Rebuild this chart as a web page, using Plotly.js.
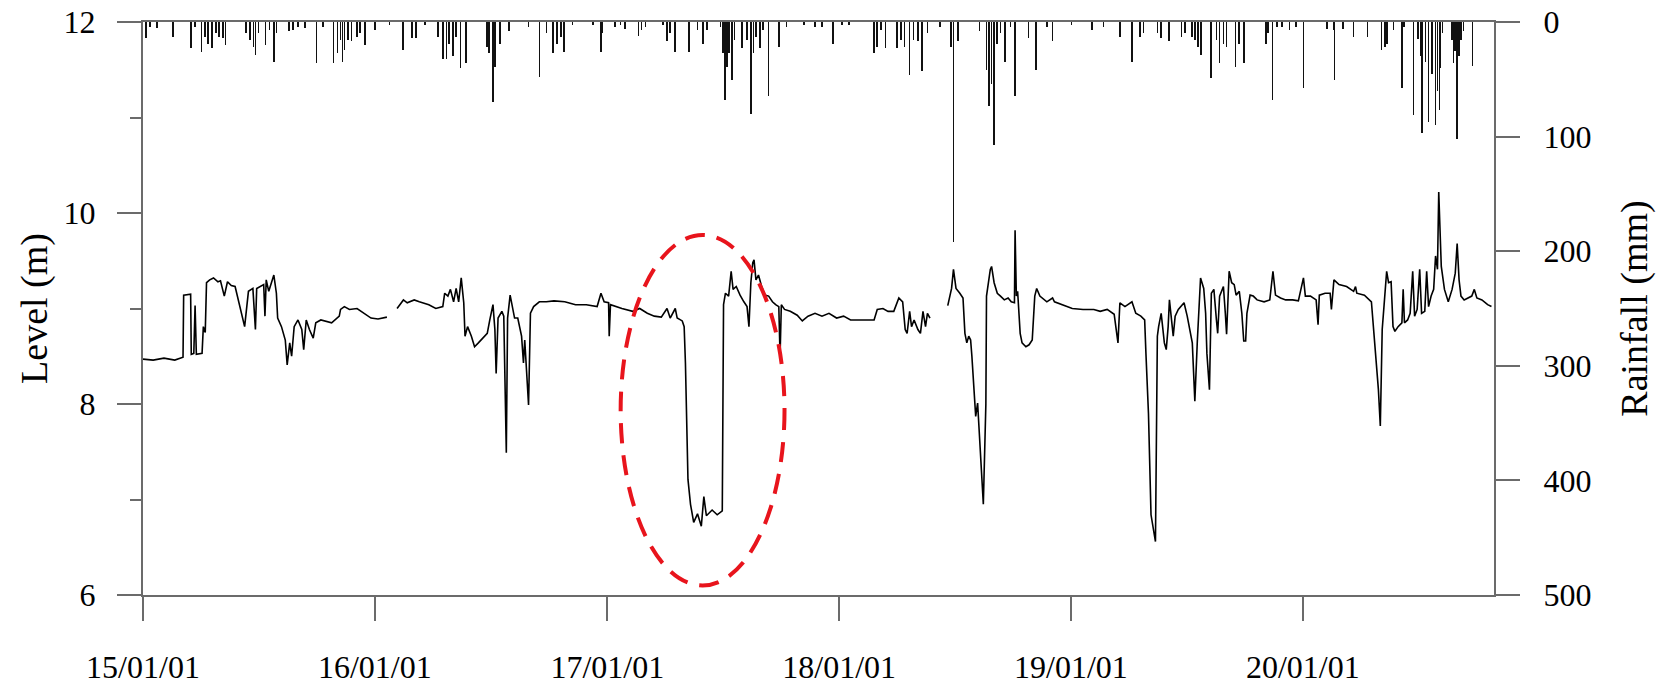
<!DOCTYPE html>
<html>
<head>
<meta charset="utf-8">
<script src="https://cdn.plot.ly/plotly-3.0.1.min.js"></script>
<style>html,body{margin:0;padding:0;background:#fff;}#chart{width:1664px;height:695px;}</style>
</head>
<body>
<div id="chart"></div>
<script>
// ---- Level (m) series ----
const levelDates = [
'2015-01-01','2015-01-17','2015-02-03','2015-02-20','2015-03-05','2015-03-06','2015-03-17','2015-03-18','2015-03-22','2015-03-24',
'2015-03-26','2015-04-04','2015-04-06','2015-04-09','2015-04-11','2015-04-16','2015-04-22','2015-04-29','2015-05-03','2015-05-09',
'2015-05-14','2015-05-20','2015-05-26','2015-06-03','2015-06-10','2015-06-16','2015-06-23','2015-06-27','2015-06-29','2015-07-10',
'2015-07-12','2015-07-14','2015-07-18','2015-07-26','2015-07-30','2015-08-01','2015-08-07','2015-08-13','2015-08-16','2015-08-20',
'2015-08-23','2015-08-27','2015-09-02','2015-09-08','2015-09-11','2015-09-15','2015-09-20','2015-09-26','2015-09-30','2015-10-08',
'2015-10-25','2015-11-06','2015-11-08','2015-11-14','2015-11-22','2015-12-04','2015-12-15','2015-12-26','2016-01-06','2016-01-20',
'2016-01-28',
'2016-02-05','2016-02-15','2016-02-21','2016-03-03','2016-03-11','2016-03-26','2016-04-06','2016-04-17','2016-04-20','2016-04-25',
'2016-04-29','2016-05-04','2016-05-08','2016-05-12','2016-05-16','2016-05-20','2016-05-22','2016-05-26','2016-06-01','2016-06-06',
'2016-06-12','2016-06-21','2016-06-26','2016-06-30','2016-07-05','2016-07-08','2016-07-10','2016-07-13','2016-07-19','2016-07-22',
'2016-07-26','2016-07-28','2016-08-01','2016-08-08','2016-08-13','2016-08-19','2016-08-22','2016-08-24','2016-08-27','2016-08-30',
'2016-09-02','2016-09-07','2016-09-16','2016-09-27','2016-10-09','2016-10-26','2016-11-12','2016-11-29','2016-12-16','2016-12-22',
'2016-12-27','2017-01-03','2017-01-04','2017-01-06','2017-01-24','2017-02-10','2017-02-21','2017-03-05','2017-03-16','2017-03-27',
'2017-04-05','2017-04-10','2017-04-18','2017-04-21','2017-04-29','2017-05-02','2017-05-04','2017-05-07','2017-05-08','2017-05-12',
'2017-05-17','2017-05-23','2017-05-29','2017-06-02','2017-06-06','2017-06-15','2017-06-23','2017-07-01','2017-07-03','2017-07-06',
'2017-07-11','2017-07-15','2017-07-18','2017-07-23','2017-07-29','2017-08-04','2017-08-09','2017-08-12','2017-08-15','2017-08-18',
'2017-08-20','2017-08-23','2017-08-27','2017-09-01','2017-09-06','2017-09-12','2017-09-18','2017-09-23','2017-09-28','2017-09-30',
'2017-10-02','2017-10-07','2017-10-16','2017-10-27','2017-11-04','2017-11-13','2017-11-24','2017-12-05','2017-12-16','2017-12-28',
'2018-01-08','2018-01-19','2018-01-30','2018-02-11','2018-02-25','2018-03-02','2018-03-11','2018-03-19','2018-03-28','2018-04-05',
'2018-04-11','2018-04-15','2018-04-18','2018-04-22','2018-04-25','2018-04-29','2018-05-05','2018-05-09','2018-05-13','2018-05-17',
'2018-05-20','2018-05-24',
'2018-06-05',
'2018-06-21','2018-06-27','2018-06-30','2018-07-04','2018-07-10','2018-07-15','2018-07-18','2018-07-21','2018-07-24','2018-07-27',
'2018-07-29','2018-08-01','2018-08-04','2018-08-07','2018-08-10','2018-08-12','2018-08-16','2018-08-20','2018-08-21','2018-08-27',
'2018-08-29','2018-09-02','2018-09-07','2018-09-12','2018-09-18','2018-09-24','2018-09-29','2018-10-04','2018-10-05','2018-10-07',
'2018-10-09','2018-10-13','2018-10-16','2018-10-22','2018-10-27','2018-11-01','2018-11-05','2018-11-08','2018-11-13','2018-11-24',
'2018-12-03','2018-12-06','2018-12-17','2019-01-03','2019-01-20','2019-02-06','2019-02-16','2019-02-27','2019-03-10','2019-03-16',
'2019-03-19','2019-03-27','2019-04-07','2019-04-13','2019-04-21','2019-04-27','2019-04-29','2019-05-03','2019-05-07','2019-05-14',
'2019-05-17','2019-05-19','2019-05-23','2019-05-28','2019-05-31','2019-06-03','2019-06-05','2019-06-11','2019-06-14','2019-06-19',
'2019-06-28','2019-07-03','2019-07-11','2019-07-15','2019-07-19','2019-07-24','2019-07-29','2019-08-01','2019-08-03','2019-08-07',
'2019-08-10','2019-08-14','2019-08-18','2019-08-20','2019-08-23','2019-08-29','2019-09-01','2019-09-03','2019-09-07','2019-09-11',
'2019-09-15','2019-09-18','2019-09-23','2019-09-27','2019-09-30','2019-10-03','2019-10-05','2019-10-10','2019-10-15','2019-10-21',
'2019-11-01','2019-11-10','2019-11-15','2019-11-19','2019-11-27','2019-12-05','2019-12-16','2019-12-25','2020-01-02','2020-01-05',
'2020-01-13','2020-01-22','2020-01-25','2020-01-27','2020-02-05','2020-02-13','2020-02-15','2020-02-19','2020-02-27','2020-03-10',
'2020-03-21','2020-03-24','2020-03-26','2020-04-07','2020-04-18','2020-04-23','2020-04-26','2020-04-29','2020-05-02','2020-05-05',
'2020-05-08','2020-05-12','2020-05-15','2020-05-19','2020-05-22','2020-05-25','2020-05-30','2020-06-05','2020-06-07','2020-06-09',
'2020-06-14','2020-06-18','2020-06-22','2020-06-25','2020-06-29','2020-07-03','2020-07-06','2020-07-11','2020-07-14','2020-07-17',
'2020-07-21','2020-07-25','2020-07-28','2020-07-31','2020-08-02','2020-08-06','2020-08-11','2020-08-17','2020-08-23','2020-08-28',
'2020-08-31','2020-09-03','2020-09-06','2020-09-11','2020-09-23','2020-09-27','2020-10-01','2020-10-09','2020-10-18','2020-10-24'
];
const levelValues = [
8.47,8.46,8.48,8.46,8.49,9.14,9.15,8.52,8.53,9.03,
8.52,8.53,8.81,8.75,9.27,9.30,9.32,9.28,9.29,9.13,
9.28,9.24,9.23,9.00,8.81,9.18,9.21,8.78,9.21,9.25,
8.92,9.30,9.18,9.35,9.16,8.90,8.81,8.67,8.41,8.64,
8.50,8.81,8.88,8.78,8.57,8.88,8.78,8.69,8.85,8.88,
8.85,8.92,8.99,9.02,8.99,9.00,8.95,8.90,8.89,8.91,
null,
9.00,9.09,9.06,9.09,9.07,9.04,9.00,9.02,9.16,9.13,
9.20,9.07,9.21,9.07,9.32,9.06,8.71,8.81,8.71,8.60,
8.64,8.71,8.74,8.88,9.04,8.78,8.32,8.90,8.97,8.92,
7.49,8.90,9.14,8.90,8.90,8.71,8.43,8.67,8.36,7.99,
8.95,9.02,9.07,9.07,9.08,9.07,9.04,9.04,9.02,9.16,
9.07,9.06,8.71,9.04,9.00,8.97,9.00,8.95,8.92,8.91,
9.00,8.90,9.00,8.90,8.87,8.81,8.43,7.30,7.21,6.95,
6.76,6.85,6.72,7.03,6.83,6.89,6.84,6.88,9.04,9.16,
9.13,9.39,9.20,9.23,9.14,9.07,9.02,8.81,9.27,9.48,
9.51,9.30,9.35,9.23,9.14,9.13,9.07,9.04,9.02,8.50,
9.04,8.99,8.97,8.93,8.87,8.92,8.95,8.92,8.95,8.90,
8.92,8.88,8.88,8.88,8.88,8.99,9.00,8.97,8.97,9.11,
9.07,8.78,8.74,8.97,8.81,8.88,8.78,8.74,8.97,8.81,
8.95,8.90,
null,
9.03,9.21,9.41,9.21,9.16,9.11,8.74,8.64,8.71,8.67,
8.50,8.15,7.87,8.01,7.66,7.42,6.95,8.00,9.13,9.41,
9.44,9.27,9.16,9.13,9.09,9.11,9.07,9.06,9.82,9.13,
9.18,8.74,8.64,8.60,8.62,8.67,9.13,9.21,9.13,9.07,
9.11,9.07,9.04,9.00,8.99,8.99,8.97,8.99,8.94,8.64,
9.06,9.02,9.07,8.95,8.92,8.88,8.53,7.90,6.84,6.56,
8.71,8.81,8.95,8.64,8.57,8.81,9.09,8.71,8.92,8.99,
9.06,8.92,8.64,8.03,8.67,9.32,9.21,8.95,8.53,8.15,
9.16,9.20,8.88,8.74,9.13,9.23,8.95,8.73,9.39,9.27,
9.25,9.14,9.18,8.95,8.66,8.66,8.95,9.14,9.13,9.09,
9.07,9.09,9.39,9.14,9.11,9.09,9.09,9.08,9.32,9.13,
9.13,9.09,8.83,9.14,9.16,9.16,8.99,9.30,9.25,9.23,
9.18,9.23,9.16,9.14,9.07,8.64,8.43,8.15,7.77,8.78,
9.04,9.39,9.27,9.28,8.81,8.76,8.81,8.85,9.20,8.85,
8.88,8.95,9.39,8.92,8.99,9.41,8.95,8.97,9.39,9.02,
9.13,9.20,9.55,9.41,10.22,9.44,9.20,9.07,9.20,9.37,
9.68,9.30,9.13,9.09,9.13,9.20,9.11,9.09,9.04,9.02
];

// ---- Rainfall (mm) series ----
const rainDates = [
'2015-01-06','2015-01-12','2015-01-23','2015-02-17','2015-03-18','2015-03-24','2015-04-03','2015-04-09','2015-04-13','2015-04-20',
'2015-04-26','2015-05-01','2015-05-07','2015-05-11','2015-06-12','2015-06-18','2015-06-24','2015-06-27','2015-07-02','2015-07-13',
'2015-07-19','2015-07-26','2015-07-30','2015-08-19','2015-08-25','2015-09-02','2015-09-13','2015-10-01','2015-10-11','2015-10-28',
'2015-11-03','2015-11-08','2015-11-11','2015-11-14','2015-11-20','2015-11-25','2015-12-04','2015-12-09','2015-12-16','2016-01-01',
'2016-01-24','2016-02-14','2016-02-29','2016-03-06','2016-03-20','2016-04-09','2016-04-17','2016-04-23','2016-04-27','2016-05-03',
'2016-05-08','2016-05-15','2016-05-24','2016-06-26','2016-06-29','2016-07-05','2016-07-08','2016-07-16','2016-07-30','2016-08-30',
'2016-09-16','2016-09-27','2016-10-07','2016-10-14','2016-10-20','2016-10-25','2016-11-07','2016-12-09','2016-12-22','2016-12-24',
'2017-01-13','2017-01-22','2017-01-29','2017-02-19','2017-02-24','2017-03-02','2017-03-30','2017-04-05','2017-04-10','2017-04-18',
'2017-05-10','2017-05-23','2017-06-01','2017-06-07','2017-06-28','2017-07-02','2017-07-05','2017-07-08','2017-07-12','2017-07-16',
'2017-07-20','2017-08-01','2017-08-09','2017-08-15','2017-08-19','2017-08-23','2017-08-29','2017-09-03','2017-09-12','2017-09-28',
'2017-10-10','2017-11-07','2017-11-24','2017-12-05','2017-12-22','2018-01-05','2018-01-16','2018-02-25','2018-03-02','2018-03-08',
'2018-03-15','2018-04-02','2018-04-08','2018-04-14','2018-04-22','2018-04-28','2018-05-05','2018-05-11','2018-05-20','2018-06-09',
'2018-06-26','2018-06-30','2018-07-07','2018-08-10','2018-08-21','2018-08-25','2018-08-29','2018-09-02','2018-09-07','2018-09-12',
'2018-09-19','2018-09-28','2018-10-05','2018-10-26','2018-11-07','2018-11-24','2018-12-03','2019-01-02','2019-02-03','2019-02-21',
'2019-03-19','2019-04-07','2019-04-20','2019-04-25','2019-05-17','2019-05-23','2019-06-04','2019-06-24','2019-06-30','2019-07-11',
'2019-07-15','2019-07-20','2019-07-25','2019-08-09','2019-08-18','2019-08-23','2019-08-29','2019-09-03','2019-09-17','2019-09-23',
'2019-09-30','2019-11-04','2019-11-07','2019-11-14','2019-11-21','2019-11-29','2019-12-11','2019-12-21','2020-01-02','2020-02-08',
'2020-02-19','2020-02-20','2020-03-04','2020-03-21','2020-04-12','2020-05-04','2020-05-09','2020-05-13','2020-05-23','2020-06-05',
'2020-06-08','2020-06-23','2020-06-30','2020-07-05','2020-07-07','2020-07-12','2020-07-17','2020-07-22','2020-07-28','2020-07-31',
'2020-08-03','2020-08-05','2020-08-08','2020-08-23','2020-08-25','2020-08-28','2020-08-31','2020-09-03','2020-09-06','2020-09-10',
'2020-09-24'
];
const rainValues = [
14,4,5,13,23,4,26,13,19,23,
10,13,14,20,10,16,22,29,10,20,
7,35,10,8,7,4,5,36,4,36,
27,16,35,24,16,17,13,10,20,7,
3,24,14,14,3,13,32,32,19,30,
13,40,36,22,27,70,39,19,8,4,
48,10,27,19,13,26,3,3,26,10,
4,3,6,12,7,4,3,17,10,26,
26,7,19,7,4,27,68,39,27,51,
16,23,16,80,27,13,23,7,65,22,
4,3,4,4,19,3,3,27,22,7,
23,23,16,22,46,16,17,43,10,4,
22,192,17,8,42,73,54,107,19,10,
35,4,65,14,42,4,17,3,7,4,
13,35,13,10,10,14,17,13,10,13,
16,22,29,49,16,36,19,22,39,19,
36,19,10,68,4,4,7,4,58,6,
7,51,6,13,13,24,22,19,7,58,
4,81,15,30,97,35,87,45,90,60,
77,40,10,16,36,25,102,30,16,8,
38
];

// ---- Axis settings / annotation ----
const xRange = ['2015-01-01', '2020-10-28'];
const xTickVals = ['2015-01-01','2016-01-01','2017-01-01','2018-01-01','2019-01-01','2020-01-01'];
const levelRange = [6, 12];
const levelTicks = [6, 8, 10, 12];
const rainRange = [500, 0];
const rainTicks = [0, 100, 200, 300, 400, 500];
const ellipseX = ['2017-01-22', '2017-10-07'];
const ellipseY = [6.10, 9.77];

const FONT = 'Liberation Serif, Times New Roman, serif';
const AXIS_COL = '#6b6b6b';

const traces = [
  {
    type: 'bar', x: rainDates, y: rainValues, yaxis: 'y2',
    width: 2.6 * 86400000,
    marker: {color: '#111', line: {width: 0}},
    hoverinfo: 'x+y', showlegend: false
  },
  {
    type: 'scatter', mode: 'lines', x: levelDates, y: levelValues,
    line: {color: '#000', width: 1.6}, connectgaps: false, showlegend: false
  }
];

const layout = {
  width: 1664, height: 695,
  margin: {l: 143, r: 170, t: 22, b: 100},
  paper_bgcolor: '#fff', plot_bgcolor: '#fff',
  font: {family: FONT, size: 32, color: '#000'},
  showlegend: false,
  bargap: 0,
  xaxis: {
    type: 'date', range: xRange, tickvals: xTickVals, tickformat: '%y/%m/%d',
    showgrid: false, zeroline: false,
    showline: true, linecolor: AXIS_COL, linewidth: 2, mirror: true,
    ticks: 'outside', ticklen: 24, tickwidth: 2, tickcolor: AXIS_COL,
    tickfont: {family: FONT, size: 32, color: '#000'},
    ticklabelstandoff: 19
  },
  yaxis: {
    range: levelRange, tickvals: levelTicks,
    showgrid: false, zeroline: false,
    showline: true, linecolor: AXIS_COL, linewidth: 2,
    ticks: 'outside', ticklen: 24, tickwidth: 2, tickcolor: AXIS_COL,
    minor: {dtick: 1, ticks: 'outside', ticklen: 11, tickwidth: 2, tickcolor: AXIS_COL, showgrid: false},
    tickfont: {family: FONT, size: 32, color: '#000'},
    ticklabelstandoff: 15,
    title: {text: 'Level (m)', font: {family: FONT, size: 38, color: '#000'}, standoff: 4}
  },
  yaxis2: {
    overlaying: 'y', side: 'right', range: rainRange, tickvals: rainTicks,
    showgrid: false, zeroline: false,
    showline: true, linecolor: AXIS_COL, linewidth: 2,
    ticks: 'outside', ticklen: 24, tickwidth: 2, tickcolor: AXIS_COL,
    tickfont: {family: FONT, size: 32, color: '#000'},
    ticklabelstandoff: 17,
    title: {text: 'Rainfall (mm)', font: {family: FONT, size: 38, color: '#000'}, standoff: 30}
  },
  shapes: [{
    type: 'circle', xref: 'x', yref: 'y',
    x0: ellipseX[0], x1: ellipseX[1], y0: ellipseY[0], y1: ellipseY[1],
    line: {color: '#e8141c', width: 4, dash: '20px,12px'}
  }]
};

Plotly.newPlot('chart', traces, layout, {displayModeBar: false, staticPlot: true});
</script>
</body>
</html>
